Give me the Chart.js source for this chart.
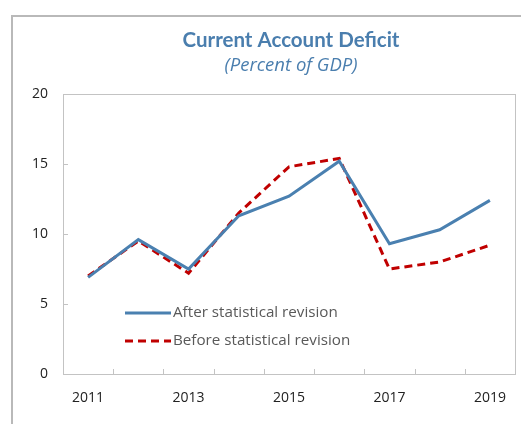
<!DOCTYPE html>
<html>
<head>
<meta charset="utf-8">
<script src="https://cdn.jsdelivr.net/npm/chart.js@4.4.0/dist/chart.umd.min.js"></script>
<style>
    html, body { margin: 0; padding: 0; background: #fff; }
    #wrap { position: relative; width: 521px; height: 424px; overflow: hidden; }
    #frame {
        position: absolute; left: 11px; top: 15px; width: 520px; height: 420px;
        border-left: 2px solid #b9b9b9; border-top: 2px solid #b9b9b9;
    }
    #chart { position: absolute; left: 0; top: 0; }
</style>
</head>
<body>
<div id="wrap">
    <div id="frame"></div>
    <canvas id="chart" width="521" height="424"></canvas>
</div>
<script>
// ====================================
// Data
// ====================================
var years = ['2011', '2012', '2013', '2014', '2015', '2016', '2017', '2018', '2019'];
var afterRevision = [6.9, 9.6, 7.5, 11.3, 12.7, 15.2, 9.3, 10.3, 12.4];
var beforeRevision = [7.0, 9.5, 7.2, 11.5, 14.8, 15.4, 7.5, 8.0, 9.2];
var yTicks = [0, 5, 10, 15, 20];

var titleText = 'Current Account Deficit';
var subtitleText = '(Percent of GDP)';
var titleColor = '#4a7eae';

// ====================================
// Plot frame, inner ticks, titles, legend
// ====================================
var decorPlugin = {
    id: 'decor',
    afterDraw: function(chart) {
        var c = chart.ctx;
        var a = chart.chartArea;
        var xs = chart.scales.x;
        var ys = chart.scales.y;
        c.save();

        // plot border
        c.strokeStyle = '#c3c3c3';
        c.lineWidth = 1;
        c.strokeRect(Math.round(a.left) + 0.5, Math.round(a.top) + 0.5,
            Math.round(a.right - a.left), Math.round(a.bottom - a.top));

        // inner tick marks
        c.beginPath();
        var n = years.length;
        for (var i = 1; i < n; i++) {
            var x = Math.round((xs.getPixelForValue(i - 1) + xs.getPixelForValue(i)) / 2) + 0.5;
            c.moveTo(x, a.bottom);
            c.lineTo(x, a.bottom - 5);
        }
        yTicks.forEach(function(v) {
            var y = Math.round(ys.getPixelForValue(v)) + 0.5;
            c.moveTo(a.left, y);
            c.lineTo(a.left + 5, y);
        });
        c.stroke();

        // titles
        var cx = (a.left + a.right) / 2 + 2;
        c.fillStyle = titleColor;
        c.textAlign = 'center';
        c.textBaseline = 'middle';
        c.font = 'bold 20.5px Lato, "Open Sans", sans-serif';
        c.fillText(titleText, cx, 40);
        c.font = 'italic 18.5px "Open Sans", sans-serif';
        c.fillText(subtitleText, cx, 66);

        // legend inside the plot
        var lx = 125, lw = 46;
        var rows = [313, 341];
        chart.data.datasets.forEach(function(ds, k) {
            var y = rows[k];
            c.beginPath();
            c.strokeStyle = ds.borderColor;
            c.lineWidth = ds.borderWidth;
            c.setLineDash(ds.borderDash || []);
            c.moveTo(lx, y);
            c.lineTo(lx + lw, y);
            c.stroke();
            c.setLineDash([]);
            c.fillStyle = '#595959';
            c.textAlign = 'left';
            c.font = '15.2px "Open Sans", sans-serif';
            c.fillText(ds.label, lx + lw + 2, y);
        });

        c.restore();
    }
};

// ====================================
// Chart
// ====================================
var ctx = document.getElementById('chart').getContext('2d');
new Chart(ctx, {
    type: 'line',
    data: {
        labels: years,
        datasets: [{
            label: 'After statistical revision',
            data: afterRevision,
            borderColor: '#4a80b0',
            borderWidth: 3,
            pointRadius: 0,
            tension: 0,
            fill: false
        }, {
            label: 'Before statistical revision',
            data: beforeRevision,
            borderColor: '#c00000',
            borderWidth: 3,
            borderDash: [8, 5],
            pointRadius: 0,
            tension: 0,
            fill: false
        }]
    },
    options: {
        responsive: false,
        animation: false,
        layout: {
            padding: { top: 94, right: 6, bottom: 0, left: 0 }
        },
        plugins: {
            legend: { display: false },
            tooltip: { enabled: false },
            title: { display: false }
        },
        scales: {
            x: {
                offset: true,
                grid: { display: false },
                border: { display: false },
                ticks: {
                    autoSkip: false,
                    maxRotation: 0,
                    padding: 8,
                    color: '#222',
                    font: { family: '"Open Sans", sans-serif', size: 14 },
                    callback: function(value, index) {
                        return index % 2 === 0 ? years[index] : '';
                    }
                },
                afterFit: function(scale) { scale.height = 50; }
            },
            y: {
                min: 0,
                max: 20,
                grid: { display: false },
                border: { display: false },
                afterBuildTicks: function(scale) {
                    scale.ticks = yTicks.map(function(v) { return { value: v }; });
                },
                ticks: {
                    padding: 7,
                    color: '#222',
                    font: { family: '"Open Sans", sans-serif', size: 14 }
                },
                afterFit: function(scale) { scale.width = 63; }
            }
        }
    },
    plugins: [decorPlugin]
});
</script>
</body>
</html>
